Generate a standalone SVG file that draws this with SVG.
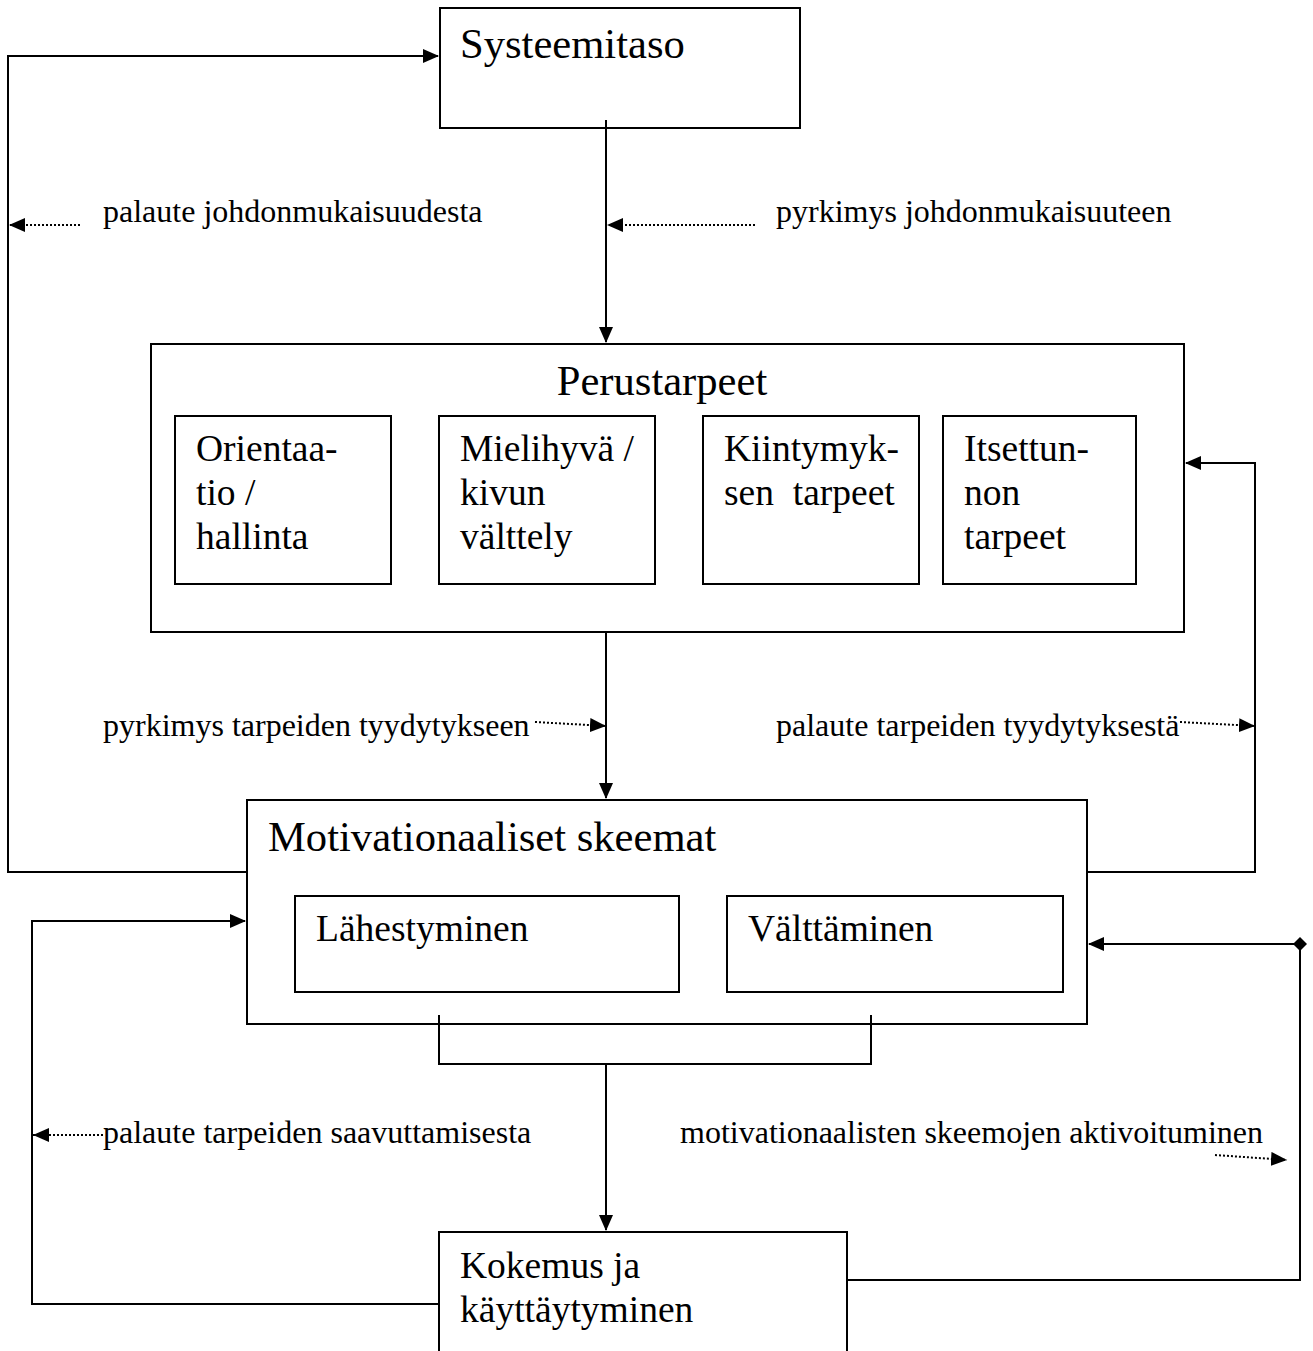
<svg xmlns="http://www.w3.org/2000/svg" width="1313" height="1351" viewBox="0 0 1313 1351">
<style>
.box{fill:#fff;stroke:#000;stroke-width:2}
.ln{fill:none;stroke:#000;stroke-width:2}
.dot{fill:none;stroke:#000;stroke-width:2;stroke-dasharray:2,2}
.t{font-family:"Liberation Serif","Times New Roman",serif;fill:#000}
.h{font-size:42.6px}
.m{font-size:37.5px}
.s{font-size:32px}
</style>
<defs>
<marker id="ah" markerWidth="16" markerHeight="14" refX="15" refY="7" orient="auto" markerUnits="userSpaceOnUse">
<path d="M0,0 L16,7 L0,14 Z" fill="#000"/>
</marker>
<marker id="ahs" markerWidth="16" markerHeight="14" refX="16" refY="7" orient="auto" markerUnits="userSpaceOnUse">
<path d="M0,0 L16,7 L0,14 Z" fill="#000"/>
</marker>
<marker id="dia" markerWidth="14" markerHeight="14" refX="7" refY="7" orient="auto" markerUnits="userSpaceOnUse">
<path d="M7,0 L14,7 L7,14 L0,7 Z" fill="#000"/>
</marker>
</defs>

<g id="systeemitaso">
<rect class="box" x="440" y="8" width="360" height="120"/>
<text class="t h" x="460" y="58">Systeemitaso</text>
</g>

<g id="perustarpeet">
<rect class="box" x="151" y="344" width="1033" height="288"/>
<text class="t h" x="662" y="395" text-anchor="middle">Perustarpeet</text>
</g>
<g id="orientaatio">
<rect class="box" x="175" y="416" width="216" height="168"/>
<text class="t m" x="196" y="461">Orientaa-</text>
<text class="t m" x="196" y="505">tio /</text>
<text class="t m" x="196" y="549">hallinta</text>
</g>
<g id="mielihyva">
<rect class="box" x="439" y="416" width="216" height="168"/>
<text class="t m" x="460" y="461">Mielihyvä /</text>
<text class="t m" x="460" y="505">kivun</text>
<text class="t m" x="460" y="549">välttely</text>
</g>
<g id="kiintymys">
<rect class="box" x="703" y="416" width="216" height="168"/>
<text class="t m" x="724" y="461">Kiintymyk-</text>
<text class="t m" x="724" y="505" xml:space="preserve">sen  tarpeet</text>
</g>
<g id="itsetunto">
<rect class="box" x="943" y="416" width="193" height="168"/>
<text class="t m" x="964" y="461">Itsettun-</text>
<text class="t m" x="964" y="505">non</text>
<text class="t m" x="964" y="549">tarpeet</text>
</g>

<g id="motivationaaliset">
<rect class="box" x="247" y="800" width="840" height="224"/>
<text class="t h" x="268" y="851">Motivationaaliset skeemat</text>
</g>
<g id="lahestyminen">
<rect class="box" x="295" y="896" width="384" height="96"/>
<text class="t m" x="316" y="941">Lähestyminen</text>
</g>
<g id="valttaminen">
<rect class="box" x="727" y="896" width="336" height="96"/>
<text class="t m" x="748" y="941">Välttäminen</text>
</g>

<g id="kokemus">
<rect class="box" x="439" y="1232" width="408" height="130"/>
<text class="t m" x="460" y="1278">Kokemus ja</text>
<text class="t m" x="460" y="1322">käyttäytyminen</text>
</g>

<g id="connectors">
<polyline class="ln" points="247,872 8,872 8,56 438,56" marker-end="url(#ah)"/>
<line class="ln" x1="606" y1="120" x2="606" y2="342" marker-end="url(#ah)"/>
<line class="ln" x1="606" y1="632" x2="606" y2="798" marker-end="url(#ah)"/>
<polyline class="ln" points="1087,872 1255,872 1255,463 1186,463" marker-end="url(#ah)"/>
<polyline class="ln" points="439,1015 439,1064 871,1064 871,1015"/>
<line class="ln" x1="606" y1="1064" x2="606" y2="1230" marker-end="url(#ah)"/>
<polyline class="ln" points="439,1304 32,1304 32,921 245,921" marker-end="url(#ah)"/>
<polyline class="ln" points="847,1280 1300,1280 1300,944"/>
<line class="ln" x1="1300" y1="944" x2="1089" y2="944" marker-start="url(#dia)" marker-end="url(#ah)"/>
<line class="dot" x1="80" y1="225" x2="9" y2="225" marker-end="url(#ahs)"/>
<line class="dot" x1="755" y1="225" x2="607" y2="225" marker-end="url(#ahs)"/>
<line class="dot" x1="535" y1="722" x2="606" y2="726" marker-end="url(#ahs)"/>
<line class="dot" x1="1180" y1="722" x2="1255" y2="726" marker-end="url(#ahs)"/>
<line class="dot" x1="103" y1="1135" x2="33" y2="1135" marker-end="url(#ahs)"/>
<line class="dot" x1="1215" y1="1155" x2="1287" y2="1160" marker-end="url(#ahs)"/>
</g>

<g id="labels">
<text class="t s" x="103" y="222">palaute johdonmukaisuudesta</text>
<text class="t s" x="776" y="222">pyrkimys johdonmukaisuuteen</text>
<text class="t s" x="103" y="736">pyrkimys tarpeiden tyydytykseen</text>
<text class="t s" x="776" y="736">palaute tarpeiden tyydytyksestä</text>
<text class="t s" x="103" y="1143">palaute tarpeiden saavuttamisesta</text>
<text class="t s" x="680" y="1143">motivationaalisten skeemojen aktivoituminen</text>
</g>
</svg>
